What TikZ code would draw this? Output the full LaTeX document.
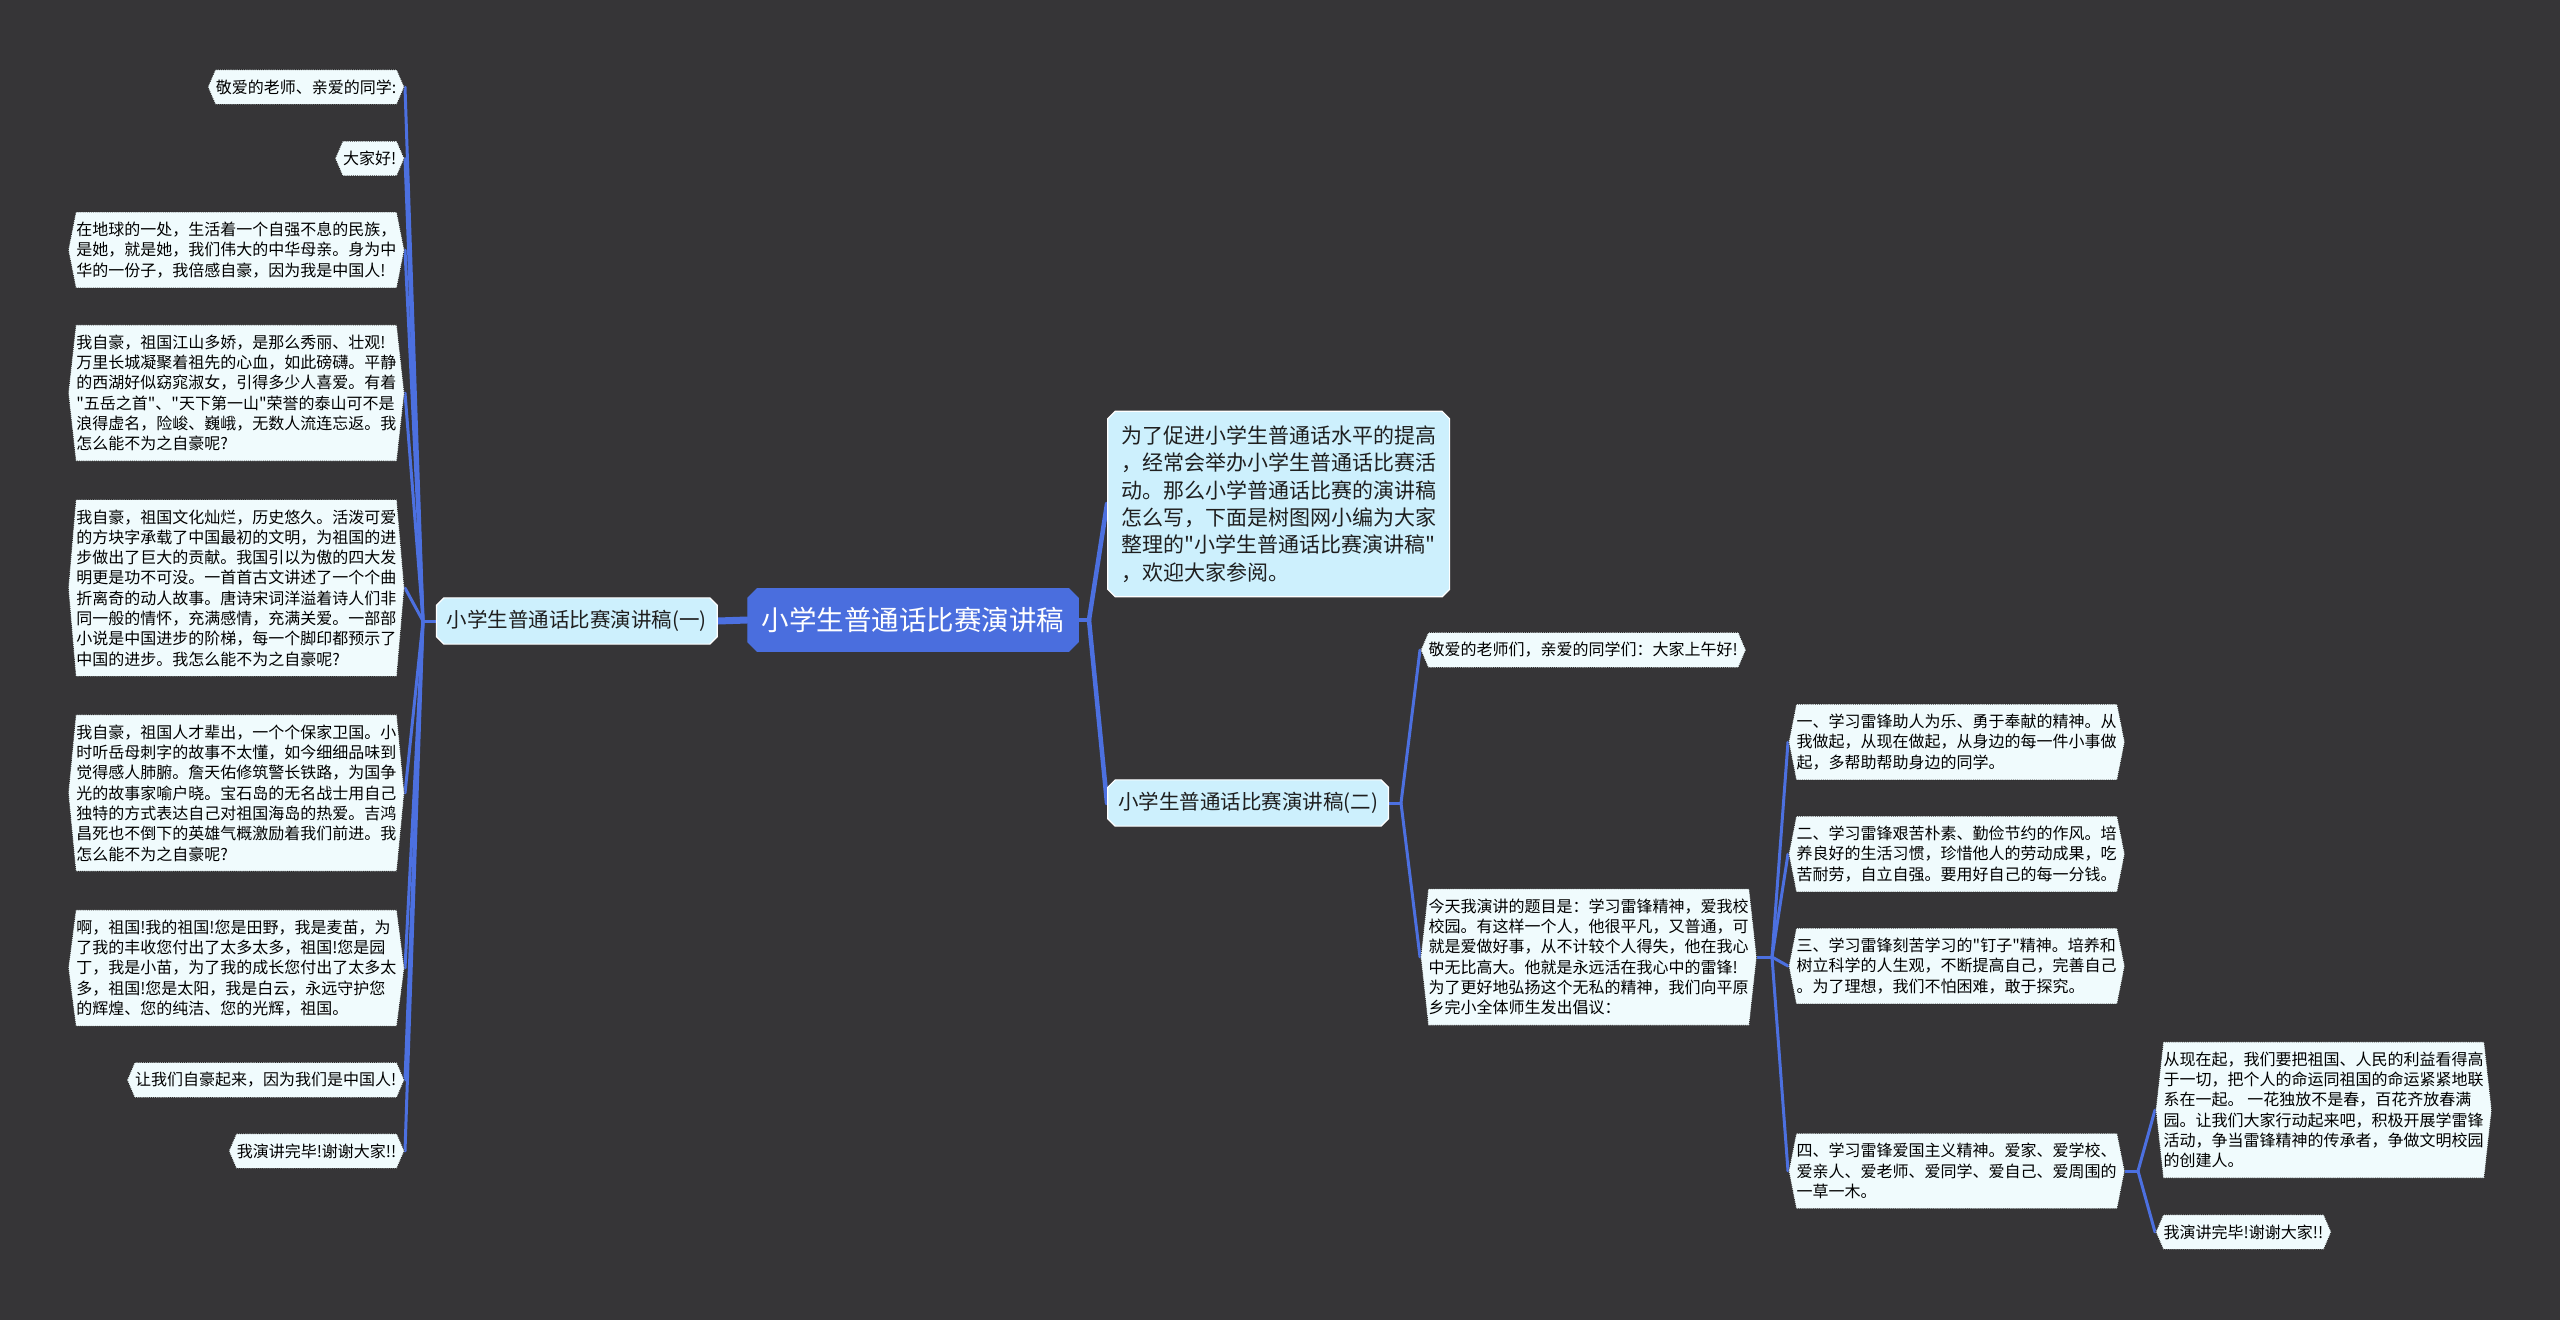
\documentclass[tikz,border=0pt]{standalone}
\usepackage{fontspec}
\newfontfamily\cjkfont{Noto Sans CJK SC}
\usetikzlibrary{calc}
\definecolor{bgc}{HTML}{363537}
\definecolor{rootc}{HTML}{4A6EDE}
\definecolor{linec}{HTML}{4C70E0}
\definecolor{midc}{HTML}{CDF0FD}
\definecolor{leafc}{HTML}{F0FBFD}
\definecolor{edgec}{HTML}{2A2A2A}
\pgfdeclarelayer{bglayer}
\pgfdeclarelayer{linelayer}
\pgfsetlayers{bglayer,linelayer,main}
\tikzset{
  octo/.style n args={3}{path picture={\path[fill=#1, draw=#2, line width=1.2pt]
    ([xshift=#3,yshift=-0.6pt]path picture bounding box.north west) --
    ([xshift=-#3,yshift=-0.6pt]path picture bounding box.north east) --
    ([xshift=-0.6pt,yshift=-#3]path picture bounding box.north east) --
    ([xshift=-0.6pt,yshift=#3]path picture bounding box.south east) --
    ([xshift=-#3,yshift=0.6pt]path picture bounding box.south east) --
    ([xshift=#3,yshift=0.6pt]path picture bounding box.south west) --
    ([xshift=0.6pt,yshift=#3]path picture bounding box.south west) --
    ([xshift=0.6pt,yshift=-#3]path picture bounding box.north west) -- cycle;}},
  rootbox/.style={octo={rootc}{rootc}{10pt}, text=white,
    font=\cjkfont\fontsize{27.5pt}{33pt}\selectfont, inner xsep=14.5pt, inner ysep=19pt},
  midbox/.style={octo={midc}{white}{8pt}, text=black!88, align=left,
    font=\cjkfont\fontsize{20.5pt}{27.3pt}\selectfont, inner xsep=11pt, inner ysep=13pt},
  leaf/.style={font=\cjkfont\fontsize{16pt}{20.3pt}\selectfont, align=left,
    inner xsep=8.5pt, inner ysep=10.5pt, text=black,
    path picture={\path[fill=leafc, draw=edgec, densely dotted, line width=0.9pt]
      ([xshift=8pt,yshift=-0.5pt]path picture bounding box.north west) --
      ([xshift=-8pt,yshift=-0.5pt]path picture bounding box.north east) --
      ([xshift=-0.5pt]path picture bounding box.east) --
      ([xshift=-8pt,yshift=0.5pt]path picture bounding box.south east) --
      ([xshift=8pt,yshift=0.5pt]path picture bounding box.south west) --
      ([xshift=0.5pt]path picture bounding box.west) -- cycle;}},
  conn/.style={draw=linec, line width=3pt, line cap=round},
  thickconn/.style={draw=linec, line width=7pt, line cap=round},
  medconn/.style={draw=linec, line width=4.5pt, line cap=round}
}
\begin{document}
\begin{tikzpicture}[x=1pt,y=-1pt]
\begin{pgfonlayer}{bglayer}
\fill[bgc] (0,0) rectangle (2560,1320);
\end{pgfonlayer}
\useasboundingbox (0,0) rectangle (2560,1320);

% central nodes
\node[rootbox] (root) at (913,620) {小学生普通话比赛演讲稿};
\node[midbox, anchor=east] (L0) at (718,621) {小学生普通话比赛演讲稿(一)};
\node[midbox, anchor=west, inner xsep=14pt, inner ysep=15pt, font=\cjkfont\fontsize{21pt}{27.3pt}\selectfont] (R1) at (1107,504) {为了促进小学生普通话水平的提高\\，经常会举办小学生普通话比赛活\\动。那么小学普通话比赛的演讲稿\\怎么写，下面是树图网小编为大家\\整理的"小学生普通话比赛演讲稿"\\，欢迎大家参阅。};
\node[midbox, anchor=west] (R2) at (1107,803) {小学生普通话比赛演讲稿(二)};

% left leaves
\node[leaf, anchor=east] (C1) at (405,87) {敬爱的老师、亲爱的同学:};
\node[leaf, anchor=east] (C2) at (405,158.5) {大家好!};
\node[leaf, anchor=east] (C3) at (405,250) {在地球的一处，生活着一个自强不息的民族，\\是她，就是她，我们伟大的中华母亲。身为中\\华的一份子，我倍感自豪，因为我是中国人!};
\node[leaf, anchor=east] (C4) at (405,393) {我自豪，祖国江山多娇，是那么秀丽、壮观!\\万里长城凝聚着祖先的心血，如此磅礴。平静\\的西湖好似窈窕淑女，引得多少人喜爱。有着\\"五岳之首"、"天下第一山"荣誉的泰山可不是\\浪得虚名，险峻、巍峨，无数人流连忘返。我\\怎么能不为之自豪呢?};
\node[leaf, anchor=east] (C5) at (405,588) {我自豪，祖国文化灿烂，历史悠久。活泼可爱\\的方块字承载了中国最初的文明，为祖国的进\\步做出了巨大的贡献。我国引以为傲的四大发\\明更是功不可没。一首首古文讲述了一个个曲\\折离奇的动人故事。唐诗宋词洋溢着诗人们非\\同一般的情怀，充满感情，充满关爱。一部部\\小说是中国进步的阶梯，每一个脚印都预示了\\中国的进步。我怎么能不为之自豪呢?};
\node[leaf, anchor=east] (C6) at (405,793) {我自豪，祖国人才辈出，一个个保家卫国。小\\时听岳母刺字的故事不太懂，如今细细品味到\\觉得感人肺腑。詹天佑修筑警长铁路，为国争\\光的故事家喻户晓。宝石岛的无名战士用自己\\独特的方式表达自己对祖国海岛的热爱。吉鸿\\昌死也不倒下的英雄气概激励着我们前进。我\\怎么能不为之自豪呢?};
\node[leaf, anchor=east] (C7) at (405,968) {啊，祖国!我的祖国!您是田野，我是麦苗，为\\了我的丰收您付出了太多太多，祖国!您是园\\丁，我是小苗，为了我的成长您付出了太多太\\多，祖国!您是太阳，我是白云，永远守护您\\的辉煌、您的纯洁、您的光辉，祖国。};
\node[leaf, anchor=east] (C8) at (405,1080) {让我们自豪起来，因为我们是中国人!};
\node[leaf, anchor=east] (C9) at (405,1151) {我演讲完毕!谢谢大家!!};

% right leaves
\node[leaf, anchor=west] (D1) at (1420,650) {敬爱的老师们，亲爱的同学们：大家上午好!};
\node[leaf, anchor=west] (D2) at (1420,957) {今天我演讲的题目是：学习雷锋精神，爱我校\\校园。有这样一个人，他很平凡，又普通，可\\就是爱做好事，从不计较个人得失，他在我心\\中无比高大。他就是永远活在我心中的雷锋!\\为了更好地弘扬这个无私的精神，我们向平原\\乡完小全体师生发出倡议：};
\node[leaf, anchor=west] (E1) at (1788,742) {一、学习雷锋助人为乐、勇于奉献的精神。从\\我做起，从现在做起，从身边的每一件小事做\\起，多帮助帮助身边的同学。};
\node[leaf, anchor=west] (E2) at (1788,854) {二、学习雷锋艰苦朴素、勤俭节约的作风。培\\养良好的生活习惯，珍惜他人的劳动成果，吃\\苦耐劳，自立自强。要用好自己的每一分钱。};
\node[leaf, anchor=west] (E3) at (1788,966) {三、学习雷锋刻苦学习的"钉子"精神。培养和\\树立科学的人生观，不断提高自己，完善自己\\。为了理想，我们不怕困难，敢于探究。};
\node[leaf, anchor=west] (E4) at (1788,1171) {四、学习雷锋爱国主义精神。爱家、爱学校、\\爱亲人、爱老师、爱同学、爱自己、爱周围的\\一草一木。};
\node[leaf, anchor=west] (F1) at (2155,1110) {从现在起，我们要把祖国、人民的利益看得高\\于一切，把个人的命运同祖国的命运紧紧地联\\系在一起。 一花独放不是春，百花齐放春满\\园。让我们大家行动起来吧，积极开展学雷锋\\活动，争当雷锋精神的传承者，争做文明校园\\的创建人。};
\node[leaf, anchor=west] (F2) at (2155,1232) {我演讲完毕!谢谢大家!!};

% junction points
\coordinate (jL) at (423,621);
\coordinate (jR) at (1089,620);
\coordinate (j2) at (1401,803);
\coordinate (jD) at (1772,957);
\coordinate (jE) at (2138,1171);

\begin{pgfonlayer}{linelayer}
\draw[thickconn] (root.west) -- (L0.east);
\draw[medconn] (root.east) -- (jR);
\draw[medconn] (jR) -- (R1.west);
\draw[medconn] (jR) -- (R2.west);
\draw[conn] (L0.west) -- (jL);
\foreach \n in {C1,C2,C3,C4,C5,C6,C7,C8,C9} \draw[conn] (jL) -- (\n.east);
\draw[conn] (R2.east) -- (j2);
\draw[conn] (j2) -- (D1.west);
\draw[conn] (j2) -- (D2.west);
\draw[conn] (D2.east) -- (jD);
\foreach \n in {E1,E2,E3,E4} \draw[conn] (jD) -- (\n.west);
\draw[conn] (E4.east) -- (jE);
\draw[conn] (jE) -- (F1.west);
\draw[conn] (jE) -- (F2.west);
\end{pgfonlayer}
\end{tikzpicture}
\end{document}
